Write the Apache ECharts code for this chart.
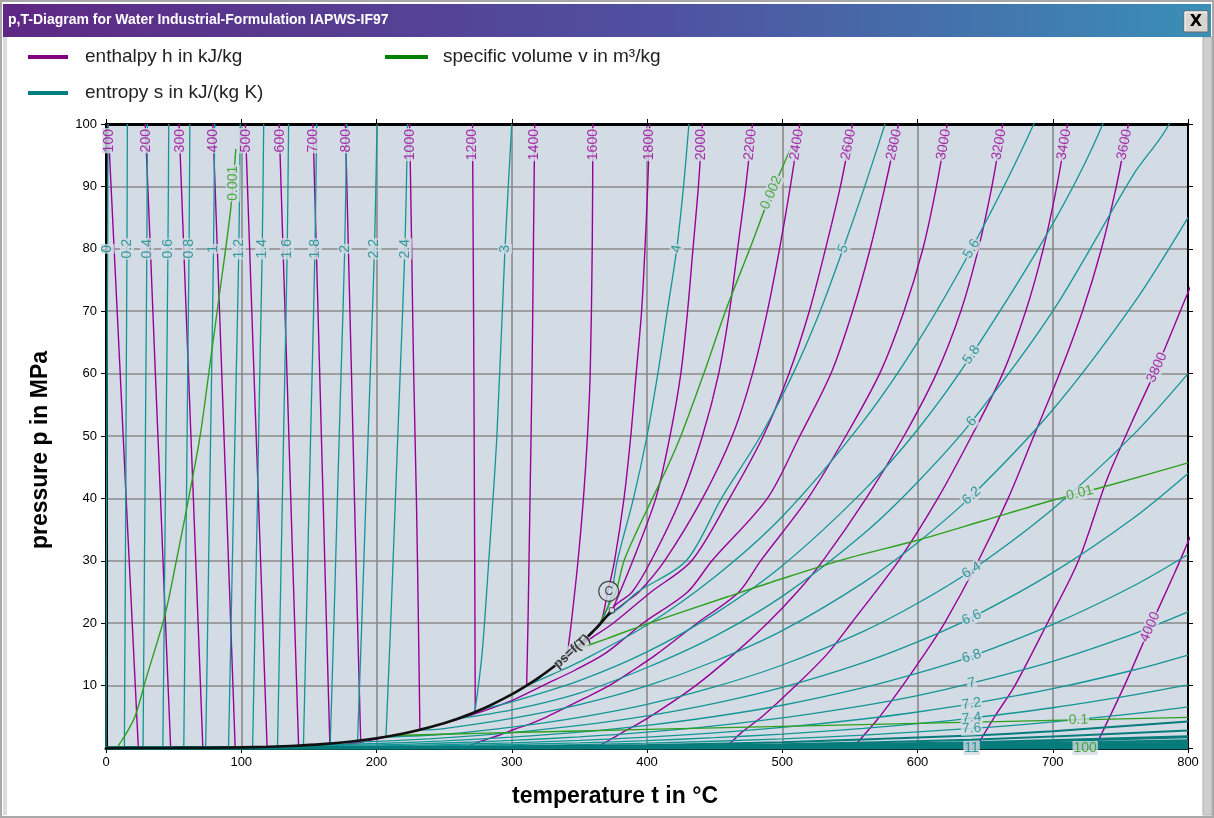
<!DOCTYPE html>
<html>
<head>
<meta charset="utf-8">
<script src="https://cdn.jsdelivr.net/npm/echarts/dist/echarts.min.js"></script>
<style>
html, body { margin: 0; padding: 0; background: #ffffff; }
#chart { width: 1214px; height: 818px; }
</style>
</head>
<body>
<div id="chart"></div>
<script>
// p,T-diagram of water: isenthalps, isentropes, isochores and the vapour-pressure curve.
// Every curve is a list of [temperature t in °C, pressure p in MPa].

const tempTicks = [0, 100, 200, 300, 400, 500, 600, 700, 800];
const pressureTicks = [0, 10, 20, 30, 40, 50, 60, 70, 80, 90, 100];

const saturationCurve = [
  [0.01, 0.0006], [50, 0.0123], [100, 0.1014], [120, 0.1985], [140, 0.3614], [160, 0.6182],
  [180, 1.0028], [200, 1.5549], [220, 2.3196], [240, 3.3469], [260, 4.6923], [280, 6.4166],
  [300, 8.5879], [310, 9.8651], [320, 11.284], [330, 12.858], [340, 14.601], [350, 16.529],
  [360, 18.666], [365, 19.82], [370, 21.044], [373.95, 22.064]
];
const criticalPoint = [373.95, 22.064];

const enthalpyLevels = [100, 200, 300, 400, 500, 600, 700, 800, 1000, 1200, 1400, 1600,
  1800, 2000, 2200, 2400, 2600, 2800, 3000, 3200, 3400, 3600, 3800, 4000];
const enthalpyCurves = [
  [[23.9, 0.003], [19.4, 20], [14.9, 40], [10.5, 60], [6.0, 80], [1.5, 100]],
  [[47.8, 0.011], [44.0, 20], [40.3, 40], [36.5, 60], [32.8, 80], [29, 100]],
  [[71.6, 0.033], [68.1, 20], [64.6, 40], [61.0, 60], [57.5, 80], [54, 100]],
  [[95.5, 0.086], [92.2, 20], [88.9, 40], [85.6, 60], [82.3, 80], [79, 100]],
  [[119.1, 0.194], [115.9, 20], [112.7, 40], [109.4, 60], [106.2, 80], [103, 100]],
  [[142.4, 0.385], [139.5, 20], [136.6, 40], [133.8, 60], [130.9, 80], [128, 100]],
  [[165.5, 0.70], [163, 20], [160.5, 40], [158, 60], [155.5, 80], [153, 100]],
  [[188.3, 1.2], [186, 20], [183.7, 40], [181.5, 60], [179.2, 80], [177, 100]],
  [[232.1, 2.86], [231, 20], [229.5, 40], [227.5, 60], [226, 80], [224.5, 100]],
  [[273, 5.8], [272.8, 20], [272.4, 40], [272, 60], [271.5, 80], [271, 100]],
  [[311, 9.9], [312, 20], [313.5, 40], [315, 60], [316, 80], [317, 100]],
  [[341, 14.8], [344, 20], [349, 30], [353, 40], [356, 50], [358, 60], [359.5, 80], [360, 100]],
  [[363, 19.2], [366, 20], [371, 25], [376, 30], [383, 40], [388, 50], [392, 60], [396, 70], [398.5, 80], [400.5, 90], [402, 100]],
  [[373.2, 21.9], [375, 22.5], [380, 25], [389.5, 30], [406.5, 40], [417, 50], [425, 60], [430, 70], [434, 80], [438, 90], [441, 100]],
  [[373.9, 22.06], [377, 23], [389, 25], [403, 30], [425, 40], [441, 50], [453, 60], [461, 70], [467, 80], [473, 90], [478, 100]],
  [[371.5, 21.3], [376, 22], [385, 23.5], [394, 25], [413, 30], [441, 40], [463, 50], [478, 60], [489, 70], [498, 80], [506, 90], [513, 100]],
  [[343.7, 15.3], [358, 17.5], [375, 20], [403, 25], [433, 30], [461, 40], [486, 50], [505, 60], [520, 70], [532, 80], [543, 90], [552, 100]],
  [[160, 0], [175, 0.5], [190, 1], [212.5, 2], [225, 2.55], [234, 3], [266, 5], [300, 7.6], [323, 10], [347, 12.5], [368, 15], [383, 17.5], [397, 20], [430, 25], [448, 30], [489, 40], [513, 50], [536, 60], [552, 70], [565, 80], [576, 90], [586, 100]],
  [[263, 0], [270, 0.5], [276, 1], [290, 2], [302, 3], [315, 4], [326, 5], [354, 8], [372, 10], [390, 12.5], [407, 15], [437, 20], [468, 25], [484, 30], [519, 40], [547, 50], [572, 60], [590, 70], [604, 80], [614, 90], [622, 100]],
  [[362, 0], [370, 1], [378, 2], [402, 5], [436, 10], [464, 15], [489, 20], [511, 25], [530, 30], [562, 40], [590, 50], [614, 60], [632, 70], [645, 80], [655, 90], [663, 100]],
  [[458, 0], [470, 2.5], [485, 5], [510, 10], [533, 15], [551, 20], [586, 30], [615, 40], [640, 50], [663, 60], [680, 70], [693, 80], [703, 90], [711, 100]],
  [[552, 0], [572, 5], [589, 10], [605, 15], [620, 20], [645, 30], [667, 40], [686, 50], [705, 60], [722, 70], [736, 80], [747, 90], [756, 100]],
  [[643, 0], [657, 5], [672, 10], [696, 20], [719, 30], [740, 43], [758, 52], [777, 61], [800, 73], [810, 78]],
  [[731, 0], [753, 10], [772, 19.4], [790, 28], [800, 33], [810, 38]]
];

const entropyLevels = [0, 0.2, 0.4, 0.6, 0.8, 1, 1.2, 1.4, 1.6, 1.8, 2, 2.2, 2.4, 3, 4, 5,
  5.6, 5.8, 6, 6.2, 6.4, 6.6, 6.8, 7, 7.2, 7.4, 7.6, 7.8, 8, 8.2, 8.4, 8.6, 8.8, 9, 9.5, 10, 11];
const entropyCurves = [
  [[0.01, 0.0006], [0.5, 40], [1.2, 80], [1.5, 100]],
  [[13.6, 0.0016], [14.1, 20], [14.6, 40], [15.0, 60], [15.5, 80], [15.8, 100]],
  [[27.4, 0.0036], [28.1, 20], [28.8, 40], [29.5, 60], [30.2, 80], [30.6, 100]],
  [[42.0, 0.0082], [43.0, 20], [43.9, 40], [44.9, 60], [45.8, 80], [46.4, 100]],
  [[57.5, 0.0175], [58.5, 20], [59.5, 40], [60.4, 60], [61.4, 80], [62.0, 100]],
  [[73.7, 0.035], [75.2, 20], [76.6, 40], [78.1, 60], [79.5, 80], [80.4, 100]],
  [[90.6, 0.072], [92.5, 20], [94.4, 40], [96.3, 60], [98.2, 80], [99.3, 100]],
  [[108.4, 0.136], [110.2, 20], [112, 40], [113.7, 60], [115.5, 80], [116.6, 100]],
  [[126.8, 0.245], [128.6, 20], [130.4, 40], [132.2, 60], [134, 80], [135, 100]],
  [[146, 0.43], [148.1, 20], [150.2, 40], [152.4, 60], [154.5, 80], [155.8, 100]],
  [[165.8, 0.71], [168.5, 20], [171.1, 40], [173.8, 60], [176.5, 80], [178, 100]],
  [[186, 1.15], [189.1, 20], [192.2, 40], [195.4, 60], [198.5, 80], [200.4, 100]],
  [[207, 1.8], [210.5, 20], [214, 40], [217.5, 60], [221, 80], [223, 100]],
  [[272.7, 5.75], [278, 15], [283, 30], [289, 50], [295, 80], [300, 100]],
  [[364, 19.5], [370, 22], [374, 25], [378, 30], [390, 40], [400, 50], [408, 60], [415, 70], [422, 80], [427, 90], [431, 100]],
  [[362.5, 19.0], [367, 20.5], [380, 22.5], [393, 25], [429, 30], [455, 40], [484, 50], [508, 60], [528, 70], [545, 80], [561, 90], [576, 100]],
  [[310.5, 9.95], [330, 11.8], [350, 13.8], [400, 19.7], [450, 27.4], [500, 37.1], [560, 52.4], [600, 65], [640, 80], [686, 100], [720, 118]],
  [[277, 6.2], [300, 7.4], [350, 10.8], [400, 15.4], [450, 21.5], [500, 29.2], [560, 41.2], [600, 51], [640, 63], [700, 84], [737, 100], [760, 115]],
  [[260, 4.69], [300, 6.1], [350, 8.8], [400, 12.9], [450, 17.9], [500, 24.3], [560, 34.3], [600, 42.6], [640, 52.3], [700, 70], [760, 92], [786, 100], [800, 110]],
  [[231.5, 2.85], [250, 3.12], [300, 4.74], [350, 6.95], [400, 9.95], [450, 13.9], [500, 18.8], [560, 26.5], [600, 32.9], [640, 40.4], [700, 54.2], [760, 71.3], [800, 85]],
  [[206.3, 1.75], [250, 2.2], [300, 3.35], [350, 4.92], [400, 7.0], [450, 9.8], [500, 13.3], [560, 18.7], [600, 23.2], [640, 28.5], [700, 38.3], [760, 50.3], [800, 60]],
  [[178, 0.95], [200, 1.05], [250, 1.61], [300, 2.46], [350, 3.61], [400, 5.15], [450, 7.16], [500, 9.72], [560, 13.7], [600, 17.0], [640, 20.9], [700, 28.1], [760, 36.9], [800, 44]],
  [[156, 0.56], [200, 0.72], [250, 1.14], [300, 1.73], [350, 2.54], [400, 3.63], [450, 5.05], [500, 6.85], [560, 9.67], [600, 12.0], [640, 14.7], [700, 19.8], [760, 26], [800, 31]],
  [[136, 0.32], [200, 0.50], [250, 0.80], [300, 1.22], [350, 1.79], [400, 2.55], [450, 3.55], [500, 4.82], [560, 6.8], [600, 8.4], [640, 10.4], [700, 13.9], [760, 18.3], [800, 21.8]],
  [[116, 0.175], [150, 0.22], [200, 0.34], [250, 0.55], [300, 0.83], [350, 1.22], [400, 1.74], [450, 2.43], [500, 3.3], [560, 4.65], [600, 5.77], [640, 7.1], [700, 9.5], [760, 12.5], [800, 14.9]],
  [[96, 0.088], [150, 0.15], [200, 0.23], [250, 0.37], [300, 0.56], [350, 0.83], [400, 1.18], [450, 1.65], [500, 2.23], [560, 3.15], [600, 3.9], [640, 4.8], [700, 6.45], [760, 8.5], [800, 10.1]],
  [[81, 0.047], [200, 0.15], [300, 0.37], [400, 0.77], [500, 1.46], [560, 2.06], [640, 3.14], [700, 4.2], [760, 5.5], [800, 6.6]],
  [[67, 0.027], [200, 0.098], [300, 0.24], [400, 0.5], [500, 0.94], [640, 2.0], [700, 2.7], [800, 4.25]],
  [[54, 0.015], [200, 0.065], [300, 0.156], [400, 0.33], [500, 0.62], [640, 1.33], [800, 2.8]],
  [[43, 0.0086], [200, 0.042], [300, 0.1], [400, 0.21], [500, 0.4], [640, 0.86], [800, 1.8]],
  [[33, 0.005], [200, 0.027], [400, 0.137], [500, 0.26], [640, 0.56], [800, 1.17]],
  [[23, 0.003], [200, 0.018], [400, 0.089], [500, 0.168], [640, 0.36], [800, 0.76]],
  [[14, 0.0016], [200, 0.011], [400, 0.057], [640, 0.23], [800, 0.49]],
  [[6, 0.0009], [200, 0.0074], [400, 0.037], [640, 0.15], [800, 0.32]],
  [[0, 0.0003], [400, 0.013], [640, 0.05], [800, 0.11]],
  [[0, 0.0001], [400, 0.004], [800, 0.037]],
  [[0, 0], [800, 0.004]]
];

const volumeLevels = [0.001, 0.002, 0.01, 0.1, 1, 10, 100];
const volumeCurves = [
  [[8, 0], [14, 2], [21.4, 5], [30, 11.4], [43.6, 21.3], [52, 30], [60.8, 39.7], [69.5, 49.9], [77, 61.7], [83, 71.3], [92, 86], [96, 96]],
  [[364.5, 19.7], [372, 23], [377, 25], [383, 30], [393, 35], [404, 40], [415, 45], [425, 50], [442, 60], [458, 70], [476, 80], [490, 88], [500, 93], [506, 96]],
  [[345, 15.6], [370, 17.5], [400, 19.9], [459, 24.2], [498, 27], [550, 30.5], [600, 33.3], [650, 36.5], [700, 39.7], [742, 42.1], [800, 45.7]],
  [[212, 2.0], [250, 2.2], [300, 2.48], [400, 2.98], [500, 3.47], [600, 3.95], [700, 4.42], [800, 4.9]],
  [[116, 0.175], [200, 0.21], [300, 0.26], [400, 0.31], [500, 0.355], [600, 0.40], [700, 0.45], [800, 0.495]],
  [[45.8, 0.0098], [200, 0.021], [400, 0.031], [600, 0.04], [800, 0.0495]],
  [[11, 0.0013], [400, 0.0031], [800, 0.00495]]
];

// ---- look ----
const FONT = 'Liberation Sans, Arial, sans-serif';
const plotBg = '#d3dbe4';
const colH = '#990099';
const colS = '#149595';
const colV = '#2ea01e';
const grid = { left: 106, top: 124, width: 1082, height: 624 };
const kx = grid.width / 800;
const ky = grid.height / 100;

function segAngle(a, b) {
  let ang = Math.atan2((b[1] - a[1]) * ky, (b[0] - a[0]) * kx) * 180 / Math.PI;
  if (ang < 0) ang += 180;
  if (Math.abs(ang - 90) < 6) ang = 90;
  return ang;
}
function locate(curve, v, idx) {
  for (let i = 0; i < curve.length - 1; i++) {
    const a = curve[i], b = curve[i + 1];
    if ((v - a[idx]) * (v - b[idx]) <= 0 && a[idx] !== b[idx]) {
      const f = (v - a[idx]) / (b[idx] - a[idx]);
      return { pos: [a[0] + f * (b[0] - a[0]), a[1] + f * (b[1] - a[1])], angle: segAngle(a, b) };
    }
  }
  const n = curve.length;
  return { pos: curve[n - 1], angle: segAngle(curve[n - 2], curve[n - 1]) };
}
const atP = (c, p) => locate(c, p, 1);
const atT = (c, t) => locate(c, t, 0);
const fmt = v => String(v);

function curveSeries(name, data, color, width, z) {
  return {
    type: 'line', name: name, data: data, showSymbol: false, symbol: 'none',
    smooth: 0.3,
    lineStyle: { color: color, width: width }, silent: true, clip: true, z: z,
    animation: false
  };
}
function labelSeries(items, color, extra) {
  return {
    type: 'scatter', symbolSize: 1, itemStyle: { color: 'rgba(0,0,0,0)' }, z: 20, silent: true,
    animation: false, clip: false,
    data: items.map(it => ({ name: it.text, value: it.pos, label: { rotate: it.angle } })),
    label: Object.assign({
      show: true, position: 'inside', formatter: '{b}', color: color, fontSize: 14,
      fontFamily: FONT, backgroundColor: plotBg, padding: [0, 1, 0, 1]
    }, extra || {}),
    labelLayout: { hideOverlap: false }
  };
}

const series = [];
enthalpyCurves.forEach((c, i) => series.push(curveSeries('h ' + enthalpyLevels[i], c, colH, 1.4, 3)));
volumeCurves.forEach((c, i) => {
  // the large-volume isochores lie flat under the isentrope band
  const z = volumeLevels[i] >= 1 ? 2 : 5;
  series.push(curveSeries('v ' + volumeLevels[i], c, colV, 1.4, z));
});
entropyCurves.forEach((c, i) => {
  // the high-entropy isentropes crowd together just above p = 0 and form a dark band
  const s = entropyLevels[i];
  const w = s >= 8.2 ? 2.8 : (s >= 7.8 ? 2 : 1.3);
  const col = s >= 7.8 ? '#087c7c' : colS;
  series.push(curveSeries('s ' + s, c, col, w, 4));
});
series.push(curveSeries('saturation', saturationCurve, '#111111', 2.6, 6));

// isenthalp labels: along the top edge, two more on the right-hand side
const hLabels = [];
enthalpyLevels.forEach((h, i) => {
  const c = enthalpyCurves[i];
  const text = fmt(h);
  let loc;
  if (h === 3800) loc = atP(c, 61);
  else if (h === 4000) loc = atP(c, 19.4);
  else loc = atP(c, 100 - (5 + text.length * 3.9) / ky);
  hLabels.push({ text: text, pos: loc.pos, angle: loc.angle });
});
series.push(labelSeries(hLabels, colH));

// isentrope labels: a row at 80 MPa, then a column at 640 °C
const sLabels = [];
entropyLevels.forEach((s, i) => {
  const c = entropyCurves[i];
  let loc = null;
  if (s <= 5.6) loc = atP(c, 80);
  else if (s <= 7.6 || s === 11) loc = atT(c, 640);
  if (loc) sLabels.push({ text: fmt(s), pos: loc.pos, angle: loc.angle });
});
series.push(labelSeries(sLabels, '#0d8a8a'));

// isochore labels
const vPlace = { 0.001: ['p', 90.5], 0.002: ['p', 89], 0.01: ['t', 720], 0.1: ['t', 719], 100: ['t', 724] };
const vLabels = [];
volumeLevels.forEach((v, i) => {
  const pl = vPlace[v];
  if (!pl) return;
  const loc = pl[0] === 'p' ? atP(volumeCurves[i], pl[1]) : atT(volumeCurves[i], pl[1]);
  vLabels.push({ text: fmt(v), pos: loc.pos, angle: loc.angle });
});
series.push(labelSeries(vLabels, '#2a9a1a'));

// vapour-pressure curve label
const psLoc = atT(saturationCurve, 344.5);
series.push(labelSeries([{ text: 'ps=f(T)', pos: psLoc.pos, angle: psLoc.angle }], '#111111',
  { fontSize: 13, fontWeight: 'bold', padding: [0, 0, 0, 0] }));

// critical point marker
series.push({
  type: 'scatter', z: 25, silent: true, animation: false,
  data: [{ value: criticalPoint, symbol: 'rect', symbolSize: 5,
           itemStyle: { color: '#ffffff', borderColor: '#222', borderWidth: 1 } }]
});
series.push({
  type: 'scatter', z: 26, silent: true, animation: false,
  data: [{ value: criticalPoint, name: 'C' }],
  symbol: 'circle', symbolSize: 20, symbolOffset: [-3, -19],
  itemStyle: { color: plotBg, borderColor: '#222', borderWidth: 1.2 },
  label: { show: true, position: 'inside', formatter: '{b}', color: '#222', fontSize: 12, fontFamily: FONT }
});

const axisLineBlack = w => ({ show: true, onZero: false, lineStyle: { color: '#000', width: w } });

const option = {
  backgroundColor: '#ffffff',
  animation: false,
  grid: Object.assign({ show: true, backgroundColor: plotBg, borderWidth: 0, containLabel: false, outerBoundsMode: 'none' }, grid),
  xAxis: [
    {
      type: 'value', min: tempTicks[0], max: tempTicks[tempTicks.length - 1], interval: 100, position: 'bottom',
      axisLine: axisLineBlack(3),
      axisTick: { show: true, inside: false, length: 5, lineStyle: { color: '#000', width: 1 } },
      axisLabel: { color: '#000', fontSize: 13, fontFamily: FONT, margin: 8 },
      splitLine: { show: true, lineStyle: { color: '#8a8a8a', width: 1.6 } },
      name: 'temperature t in °C', nameLocation: 'middle', nameGap: 37,
      nameTextStyle: { color: '#000', fontSize: 23, fontWeight: 'bold', fontFamily: FONT, padding: [0, 64, 0, 0] }
    },
    {
      type: 'value', min: 0, max: 800, interval: 100, position: 'top',
      axisLine: axisLineBlack(3),
      axisTick: { show: true, inside: false, length: 5, lineStyle: { color: '#000', width: 1 } },
      axisLabel: { show: false }, splitLine: { show: false }
    }
  ],
  yAxis: [
    {
      type: 'value', min: pressureTicks[0], max: pressureTicks[pressureTicks.length - 1], interval: 10, position: 'left',
      axisLine: axisLineBlack(3),
      axisTick: { show: true, inside: false, length: 5, lineStyle: { color: '#000', width: 1 } },
      axisLabel: { color: '#000', fontSize: 13, fontFamily: FONT, margin: 9, showMinLabel: false },
      splitLine: { show: true, lineStyle: { color: '#8a8a8a', width: 1.6 } },
      name: 'pressure p in MPa', nameLocation: 'middle', nameGap: 54, nameRotate: 90,
      nameTextStyle: { color: '#000', fontSize: 23, fontWeight: 'bold', fontFamily: FONT, padding: [0, 28, 0, 0] }
    },
    {
      type: 'value', min: 0, max: 100, interval: 10, position: 'right',
      axisLine: axisLineBlack(2),
      axisTick: { show: true, inside: false, length: 5, lineStyle: { color: '#000', width: 1 } },
      axisLabel: { show: false }, splitLine: { show: false }
    }
  ],
  series: series,
  graphic: [
    // window frame
    { type: 'rect', z: -10, shape: { x: 1, y: 1, width: 1212, height: 816 }, style: { fill: '#ffffff', stroke: '#a8a8a8', lineWidth: 2 } },
    { type: 'rect', z: -9, shape: { x: 1203, y: 37, width: 9, height: 778 }, style: { fill: '#cfcfcf', stroke: '#b0b0b0', lineWidth: 1 } },
    { type: 'rect', z: -9, shape: { x: 3, y: 37, width: 4, height: 778 }, style: { fill: '#dcdcdc' } },
    {
      type: 'rect', z: -8, shape: { x: 3, y: 4, width: 1208, height: 33 },
      style: { fill: { type: 'linear', x: 0, y: 0, x2: 1, y2: 0,
        colorStops: [{ offset: 0, color: '#5e2884' }, { offset: 0.55, color: '#4f51a0' }, { offset: 1, color: '#3a8fb6' }] } }
    },
    { type: 'text', z: 50, x: 8, y: 20,
      style: { text: 'p,T-Diagram for Water Industrial-Formulation IAPWS-IF97', fill: '#ffffff', font: 'bold 14px ' + FONT, verticalAlign: 'middle' } },
    { type: 'rect', z: 50, shape: { x: 1184, y: 11, width: 24, height: 21 }, style: { fill: '#d8d6d0', stroke: '#6a6a6a', lineWidth: 1 } },
    { type: 'polyline', z: 51, shape: { points: [[1185, 31], [1185, 12], [1207, 12]] }, style: { stroke: '#ffffff', lineWidth: 1, fill: null } },
    { type: 'text', z: 52, x: 1196, y: 22,
      style: { text: 'X', fill: '#000', font: 'bold 16px DejaVu Sans, sans-serif', align: 'center', verticalAlign: 'middle' } },
    // legend
    { type: 'line', z: 50, shape: { x1: 28, y1: 57, x2: 68, y2: 57 }, style: { stroke: '#800080', lineWidth: 4 } },
    { type: 'text', z: 50, x: 85, y: 57, style: { text: 'enthalpy h in kJ/kg', fill: '#222', font: '19px ' + FONT, verticalAlign: 'middle' } },
    { type: 'line', z: 50, shape: { x1: 385, y1: 57, x2: 428, y2: 57 }, style: { stroke: '#008000', lineWidth: 4 } },
    { type: 'text', z: 50, x: 443, y: 57, style: { text: 'specific volume v in m³/kg', fill: '#222', font: '19px ' + FONT, verticalAlign: 'middle' } },
    { type: 'line', z: 50, shape: { x1: 28, y1: 93, x2: 68, y2: 93 }, style: { stroke: '#008080', lineWidth: 4 } },
    { type: 'text', z: 50, x: 85, y: 93, style: { text: 'entropy s in kJ/(kg K)', fill: '#222', font: '19px ' + FONT, verticalAlign: 'middle' } }
  ]
};

const chart = echarts.init(document.getElementById('chart'), null, { renderer: 'canvas', width: 1214, height: 818 });
chart.setOption(option);
</script>
</body>
</html>
